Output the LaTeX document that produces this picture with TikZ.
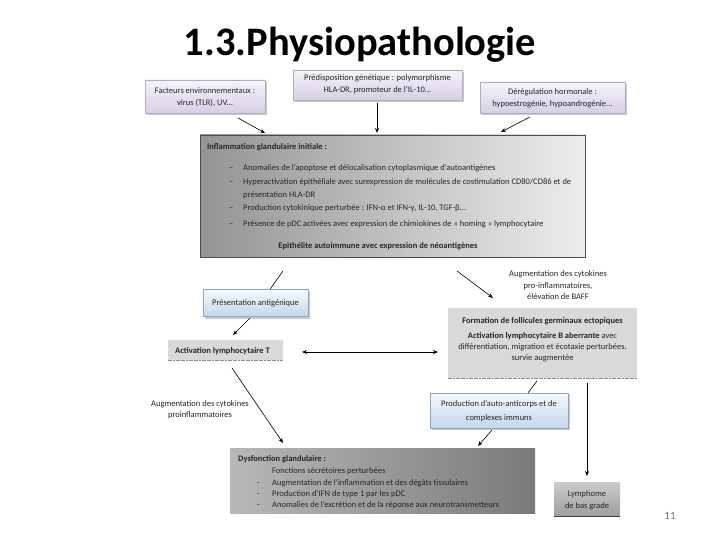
\documentclass[tikz,border=0pt]{standalone}
\usepackage{fontspec}
\setmainfont{Carlito}
\usetikzlibrary{shadows,arrows.meta}
\definecolor{txt}{HTML}{262626}
\definecolor{lavtop}{HTML}{F6F4FA}
\definecolor{lavbot}{HTML}{D6CFE4}
\definecolor{lavline}{HTML}{B4ACC6}
\definecolor{blutop}{HTML}{F6F9FD}
\definecolor{blubot}{HTML}{C6D6EC}
\definecolor{bluline}{HTML}{8EA6C6}
\definecolor{boxgray}{HTML}{D9D9D9}
\begin{document}
\begin{tikzpicture}[x=1pt,y=-1pt,
  every node/.style={text=txt, font=\fontsize{8.5}{10}\selectfont, inner sep=0pt},
  boldtxt/.style={font=\fontsize{8.5}{10}\selectfont\bfseries},
  lavbox/.style={draw=lavline, line width=0.5pt, top color=lavtop, bottom color=lavbot,
    drop shadow={shadow xshift=2pt, shadow yshift=-2pt, fill=black!35, opacity=0.6}},
  blubox/.style={draw=bluline, line width=0.5pt, top color=blutop, bottom color=blubot,
    drop shadow={shadow xshift=2pt, shadow yshift=-2pt, fill=black!35, opacity=0.6}},
  txtline/.style={anchor=base west},
  ctxt/.style={anchor=base},
  conn/.style={draw=black, line width=0.6pt},
  arr/.style={conn, -{Stealth[length=5pt,width=4pt]}},
  darr/.style={conn, {Stealth[length=5pt,width=4pt]}-{Stealth[length=5pt,width=4pt]}},
  dashbot/.style={draw=black!45, line width=0.8pt, dash pattern=on 2pt off 0.6pt}
]
\useasboundingbox (0,0) rectangle (720,540);
\fill[white] (0,0) rectangle (720,540);

% title
\node[anchor=base, font=\fontsize{40.5}{44}\selectfont\bfseries, text=black] (title) at (360,56) {1.3.Physiopathologie};

% top boxes
\node[lavbox, minimum width=120pt, minimum height=33pt] (fact) at (205,96.5) {};
\node[ctxt] (fact1) at (205,94) {Facteurs environnementaux :};
\node[ctxt] (fact2) at (205,106) {virus (TLR), UV...};

\node[lavbox, minimum width=169pt, minimum height=30pt] (pred) at (377.5,85) {};
\node[ctxt] (pred1) at (377.5,81) {Prédisposition génétique : polymorphisme};
\node[ctxt] (pred2) at (377.5,93) {HLA-DR, promoteur de l'IL-10...};

\node[lavbox, minimum width=145pt, minimum height=31pt] (dereg) at (552.5,97.5) {};
\node[ctxt] (dereg1) at (552.5,95) {Dérégulation hormonale :};
\node[ctxt] (dereg2) at (552.5,107) {hypoestrogénie, hypoandrogénie...};

% inflammation box
\node[draw=black!70, line width=0.6pt, left color=black!42, right color=black!7,
      minimum width=385pt, minimum height=122pt] (infl) at (392.5,196) {};
\node[txtline, boldtxt] (inflT) at (207,150) {Inflammation glandulaire initiale :};
\node[txtline] (d1) at (229,171) {–};
\node[txtline] (i1) at (243,171) {Anomalies de l'apoptose et délocalisation cytoplasmique d'autoantigènes};
\node[txtline] (d2) at (229,185) {–};
\node[txtline] (i2) at (243,185) {Hyperactivation épithéliale avec surexpression de molécules de costimulation CD80/CD86 et de};
\node[txtline] (i2b) at (243,197) {présentation HLA-DR};
\node[txtline] (d3) at (229,211) {–};
\node[txtline] (i3) at (243,211) {Production cytokinique perturbée : IFN-α et IFN-γ, IL-10, TGF-β...};
\node[txtline] (d4) at (229,226) {–};
\node[txtline] (i4) at (243,226) {Présence de pDC activées avec expression de chimiokines de « homing » lymphocytaire};
\node[ctxt, boldtxt] (epi) at (378,248) {Epithélite autoimmune avec expression de néoantigènes};

% presentation antigenique
\node[blubox, minimum width=105pt, minimum height=27pt] (pres) at (255.5,303) {};
\node[ctxt] (pres1) at (255.5,305.5) {Présentation antigénique};

% activation T
\node[fill=boxgray, minimum width=115pt, minimum height=20pt] (actT) at (225.5,350) {};
\draw[dashbot] (actT.south west) -- (actT.south east);
\node[txtline, boldtxt] (actT1) at (175,353) {Activation lymphocytaire T};

% right cytokines text
\node[ctxt] (cytR1) at (558,276) {Augmentation des cytokines};
\node[ctxt] (cytR2) at (558,288) {pro-inflammatoires,};
\node[ctxt] (cytR3) at (558,299) {élévation de BAFF};

% B box
\node[fill=boxgray, minimum width=189pt, minimum height=70pt] (actB) at (542.5,343) {};
\draw[dashbot] (actB.south west) -- (actB.south east);
\node[ctxt, boldtxt] (b1) at (542.5,323) {Formation de follicules germinaux ectopiques};
\node[ctxt] (b2) at (542.5,338) {\textbf{Activation lymphocytaire B aberrante} avec};
\node[ctxt] (b3) at (542.5,349) {différentiation, migration et écotaxie perturbées,};
\node[ctxt] (b4) at (542.5,360) {survie augmentée};

% left cytokines text
\node[ctxt] (cytL1) at (200,406) {Augmentation des cytokines};
\node[ctxt] (cytL2) at (200,417) {proinflammatoires};

% production
\node[blubox, minimum width=138pt, minimum height=35pt] (prod) at (499,410.5) {};
\node[ctxt] (prod1) at (499,406) {Production d'auto-anticorps et de};
\node[ctxt] (prod2) at (499,420) {complexes immuns};

% dysfonction
\node[left color=black!28, right color=black!52, minimum width=305pt, minimum height=65pt] (dys) at (382.5,480.5) {};
\node[txtline, boldtxt] (dysT) at (238,461) {Dysfonction glandulaire :};
\node[txtline] (j1) at (272,473) {Fonctions sécrétoires perturbées};
\node[txtline] (e2) at (257,485) {-};
\node[txtline] (j2) at (272,485) {Augmentation de l'inflammation et des dégâts tissulaires};
\node[txtline] (e3) at (257,496) {-};
\node[txtline] (j3) at (272,496) {Production d'IFN de type 1 par les pDC};
\node[txtline] (e4) at (257,507) {-};
\node[txtline] (j4) at (272,507) {Anomalies de l'excrétion et de la réponse aux neurotransmetteurs};

% lymphome
\node[top color=black!20, bottom color=black!38, minimum width=66pt, minimum height=34pt] (lym) at (587,499) {};
\draw[draw=black!75, line width=0.8pt] (lym.south west) -- (lym.south east);
\node[ctxt] (lym1) at (587,496) {Lymphome};
\node[ctxt] (lym2) at (587,508) {de bas grade};

% page number
\node[anchor=base, font=\fontsize{11}{13}\selectfont, text=black!55] (pg) at (670,519) {11};

% connectors
\coordinate (a1s) at (238,118); \coordinate (a1e) at (265,133);
\coordinate (a2s) at (377,103); \coordinate (a2e) at (377,133);
\coordinate (a3s) at (530,117); \coordinate (a3e) at (501,132);
\coordinate (a4s) at (283,271);
\coordinate (a5s) at (250,318); \coordinate (a5e) at (233,335);
\coordinate (a6s) at (302,352); \coordinate (a6e) at (438,352);
\coordinate (a7s) at (232,368); \coordinate (a7e) at (283,443);
\coordinate (a8s) at (457,271); \coordinate (a8e) at (493,298);
\coordinate (a9s) at (537,381);
\coordinate (a10s) at (587,383); \coordinate (a10e) at (587,476);
\coordinate (a11s) at (492,430); \coordinate (a11e) at (478,446);

\draw[arr] (a1s) -- (a1e);
\draw[arr] (a2s) -- (a2e);
\draw[arr] (a3s) -- (a3e);
\draw[conn] (a4s) -- (pres.north -| 270,0);
\draw[arr] (a5s) -- (a5e);
\draw[darr] (a6s) -- (a6e);
\draw[arr] (a7s) -- (a7e);
\draw[arr] (a8s) -- (a8e);
\draw[conn] (a9s) -- (prod.north -| 528,0);
\draw[arr] (a10s) -- (a10e);
\draw[arr] (a11s) -- (a11e);
\end{tikzpicture}
\end{document}
